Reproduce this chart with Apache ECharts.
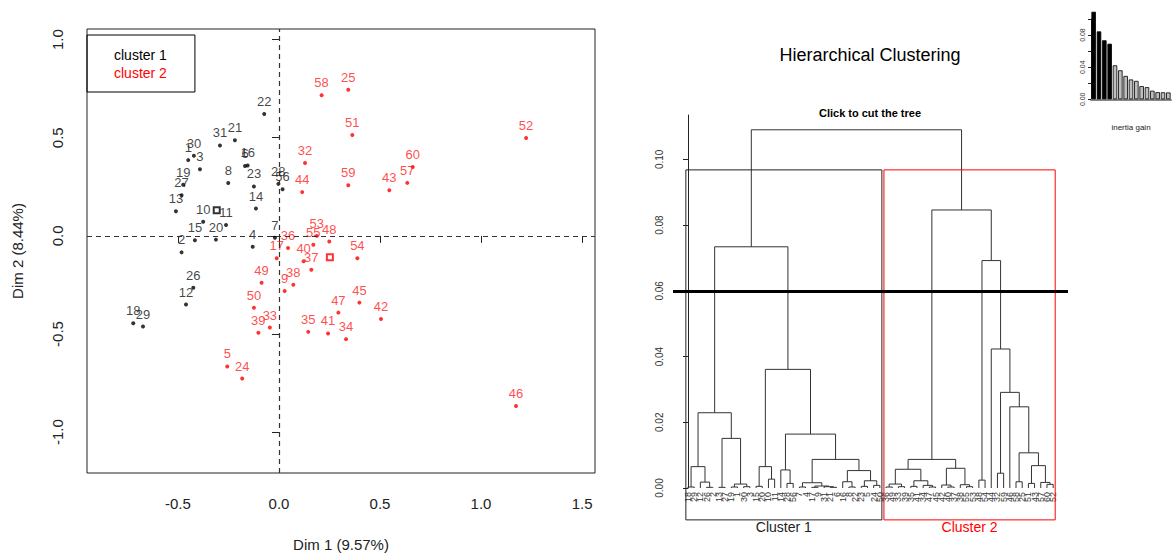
<!DOCTYPE html>
<html><head><meta charset="utf-8">
<script src="https://cdn.jsdelivr.net/npm/echarts@6/dist/echarts.min.js"></script>
<style>html,body{margin:0;padding:0;background:#fff}#c{width:1172px;height:557px}</style>
</head><body><div id="c"></div>
<script>
const FONT = '"Liberation Sans", Arial, sans-serif';

// ---------- factor map data ----------
const c1Labels = ['1','2','3','4','6','7','8','10','11','12','13','14','15','16','18','19','20','21','22','23','26','27','28','29','30','31','56'];
const c1X = [-0.449,-0.482,-0.391,-0.130,-0.168,-0.020,-0.251,-0.375,-0.262,-0.460,-0.510,-0.114,-0.416,-0.155,-0.721,-0.474,-0.312,-0.218,-0.073,-0.124,-0.424,-0.482,-0.003,-0.673,-0.421,-0.292,0.018];
const c1Y = [0.386,-0.084,0.339,-0.055,0.356,-0.009,0.269,0.072,0.055,-0.350,0.126,0.139,-0.022,0.359,-0.445,0.260,-0.019,0.487,0.621,0.252,-0.264,0.207,0.265,-0.462,0.408,0.461,0.238];

const c2Labels = ['5','9','17','24','25','32','33','34','35','36','37','38','39','40','41','42','43','44','45','46','47','48','49','50','51','52','53','54','55','57','58','59','60'];
const c2X = [-0.256,0.028,-0.011,-0.182,0.343,0.129,-0.045,0.332,0.145,0.045,0.160,0.071,-0.102,0.122,0.243,0.505,0.546,0.115,0.398,1.173,0.294,0.249,-0.086,-0.124,0.363,1.223,0.187,0.388,0.170,0.635,0.211,0.343,0.662];
const c2Y = [-0.665,-0.281,-0.114,-0.727,0.744,0.371,-0.467,-0.526,-0.489,-0.062,-0.173,-0.249,-0.494,-0.129,-0.497,-0.423,0.232,0.223,-0.340,-0.867,-0.391,-0.029,-0.239,-0.366,0.514,0.499,0.000,-0.114,-0.045,0.270,0.717,0.258,0.351];

const centerX = [-0.308, 0.252];
const centerY = [0.131, -0.109];
const clusterNames = ['cluster 1', 'cluster 2'];
const clusterColors = ['#000000', '#ff0000'];

const mapTicks = [-1.0, -0.5, 0.0, 0.5, 1.0];
const mapXTicks = [-0.5, 0.0, 0.5, 1.0, 1.5];

// ---------- dendrogram data ----------
const leafLabels = ['18','29','12','26','2','13','27','19','1','30','3','15','20','10','11','14','28','56','7','4','17','9','31','21','6','16','8','22','23','5','24','50',
  '36','49','33','39','35','41','34','47','45','42','40','37','38','55','53','48','54','44','32','59','46','58','25','51','43','57','60','52'];
// merges: [left, right, height]; integers are leaf positions
const tree1 = [
  [
    [[0,1,0.0003],[2,[3,4,0.0002],0.0018],0.0065],
    [[5,6,0.0002],[[7,8,0.0003],[9,10,0.0004],0.0012],0.0151],
    0.0229
  ],
  [
    [[11,12,0.0005],[13,14,0.0027],0.0065],
    [
      [15,[16,17,0.0014],0.0055],
      [
        [[18,19,0.0003],[[20,21,0.0002],[22,[23,24,0.0002],0.0004],0.0006],0.0016],
        [[25,[26,27,0.0003],0.0019],[[28,29,0.0005],[30,31,0.0008],0.0022],0.0053],
        0.0087
      ],
      0.0164
    ],
    0.0361
  ],
  0.0734
];
const tree2 = [
  [
    [[[32,33,0.0003],[34,35,0.0004],0.0012],[[36,37,0.0005],[38,[39,40,0.0003],0.0008],0.0022],0.0057],
    [[41,[42,43,0.0003],0.0009],[44,[45,46,0.0004],0.0010],0.0060],
    0.0087
  ],
  [
    [47,48,0.0024],
    [49,[[50,51,0.0045],[52,[[53,54,0.0019],[[55,56,0.0014],[57,[58,59,0.0011],0.0017],0.0068],0.0107],0.0247],0.0291],0.0423],
    0.0692
  ],
  0.0846
];
const rootHeight = 0.109;
const clusterSizes = [32, 28];
const boxNames = ['Cluster 1', 'Cluster 2'];
const boxColors = ['#222222', '#ff0000'];
const cutHeight = 0.0557;
const dendroTicks = [0, 0.02, 0.04, 0.06, 0.08, 0.10];

// ---------- inertia gain ----------
const gainValues = [0.109, 0.0846, 0.0735, 0.0692, 0.0423, 0.0361, 0.0291, 0.0247, 0.0229, 0.0164, 0.0151, 0.0107, 0.0089, 0.0087, 0.0085];
const gainBlack = 4;
const gainTicks = [0, 0.02, 0.04, 0.06, 0.08, 0.10];
const gainLabels = [0, 0.04, 0.08];

// ---------- build ----------
const root = [tree1, tree2, rootHeight];
const segs = [];
function lay(n) {
  if (typeof n === 'number') return {x: n, h: 0};
  const l = lay(n[0]), r = lay(n[1]);
  segs.push([l.x, l.h, r.x, r.h, n[2]]);
  return {x: (l.x + r.x) / 2, h: n[2]};
}
lay(root);
const boxTop = (tree2[2] + rootHeight) / 2;
const boxBottom = -0.0097, boxLabelY = -0.0118;
const boxes = [];
let start = 0;
clusterSizes.forEach((s, k) => {
  const left = k === 0 ? start - 0.34 : start - 1 + 0.66;
  boxes.push([left, start + s - 1 + 0.33, boxTop, boxBottom, k]);
  start += s;
});
const leafData = leafLabels.map((l, i) => [i, 0, l]);

function pts(xs, ys, ls) { return xs.map((x, i) => [x, ys[i], ls[i]]); }

const chart = echarts.init(document.getElementById('c'), null, {renderer: 'svg'});
const txt = {fontFamily: FONT};
chart.setOption({
  animation: false,
  textStyle: txt,
  title: [
    {text: 'Hierarchical Clustering', left: 870, top: 46, textAlign: 'center', padding: 0,
     textStyle: {fontFamily: FONT, fontSize: 18, fontWeight: 'normal', color: '#000'}},
    {text: 'Click to cut the tree', left: 870, top: 107, textAlign: 'center', padding: 0,
     textStyle: {fontFamily: FONT, fontSize: 11, fontWeight: 'bold', color: '#000'}}
  ],
  legend: {
    orient: 'vertical', left: 87, top: 35, padding: [13, 28, 12, 22], itemGap: 4,
    itemWidth: 0, itemHeight: 0, borderColor: '#000', borderWidth: 1, borderRadius: 0,
    selectedMode: false,
    textStyle: {fontFamily: FONT, fontSize: 14},
    data: [{name: clusterNames[0], textStyle: {color: clusterColors[0]}},
           {name: clusterNames[1], textStyle: {color: clusterColors[1]}}]
  },
  grid: [
    {left: 87, top: 29, width: 508, height: 449, show: true, borderColor: '#222', borderWidth: 1, backgroundColor: 'transparent'},
    {left: 673, top: 115, width: 395, height: 373},
    {left: 1091, top: 19, width: 80, height: 80.3}
  ],
  xAxis: [
    {gridIndex: 0, type: 'value', min: -0.950, max: 1.564,
     name: 'Dim 1 (9.57%)', nameLocation: 'middle', nameGap: 64,
     nameTextStyle: {fontFamily: FONT, fontSize: 15, color: '#222'},
     axisLine: {show: false}, splitLine: {show: false},
     axisTick: {show: true, inside: false, length: 7, customValues: mapXTicks, lineStyle: {color: '#222'}},
     axisLabel: {customValues: mapXTicks, formatter: v => v.toFixed(1), fontSize: 15, color: '#222', margin: 23, fontFamily: FONT}},
    {gridIndex: 1, type: 'value', min: -2.42, max: 61.4,
     axisLine: {show: false}, axisTick: {show: false}, splitLine: {show: false}, axisLabel: {show: false}},
    {gridIndex: 2, type: 'category', data: gainValues.map((_, i) => String(i + 1)), offset: 16,
     name: 'inertia gain', nameLocation: 'middle', nameGap: 8,
     nameTextStyle: {fontFamily: FONT, fontSize: 8, color: '#222'},
     axisLine: {show: true, lineStyle: {color: '#888', width: 2}},
     axisTick: {show: false}, axisLabel: {show: false}, splitLine: {show: false}}
  ],
  yAxis: [
    {gridIndex: 0, type: 'value', min: -1.208, max: 1.054,
     name: 'Dim 2 (8.44%)', nameLocation: 'middle', nameGap: 62, nameRotate: 90,
     nameTextStyle: {fontFamily: FONT, fontSize: 15, color: '#222'},
     axisLine: {show: false}, splitLine: {show: false},
     axisTick: {show: true, inside: false, length: 7, customValues: mapTicks, lineStyle: {color: '#222'}},
     axisLabel: {customValues: mapTicks, formatter: v => v.toFixed(1), rotate: 90, fontSize: 15, color: '#222', margin: 22, fontFamily: FONT}},
    {gridIndex: 1, type: 'value', min: 0, max: 0.1135,
     axisLine: {show: true, lineStyle: {color: '#222', width: 1}}, splitLine: {show: false},
     axisTick: {show: true, inside: false, length: 5, customValues: dendroTicks, lineStyle: {color: '#222'}},
     axisLabel: {customValues: dendroTicks, formatter: v => v.toFixed(2), rotate: 90, fontSize: 10, color: '#333', margin: 9, fontFamily: FONT}},
    {gridIndex: 2, type: 'value', min: 0, max: 0.10,
     axisLine: {show: true, lineStyle: {color: '#222', width: 1}}, splitLine: {show: false},
     axisTick: {show: true, inside: false, length: 3, customValues: gainTicks, lineStyle: {color: '#222'}},
     axisLabel: {customValues: gainLabels, formatter: v => v.toFixed(2), rotate: 90, fontSize: 7, color: '#333', margin: 5, fontFamily: FONT}}
  ],
  series: [
    {name: clusterNames[0], type: 'scatter', xAxisIndex: 0, yAxisIndex: 0,
     data: pts(c1X, c1Y, c1Labels), symbolSize: 4, itemStyle: {color: clusterColors[0]},
     label: {show: true, position: 'top', distance: 4, formatter: p => p.value[2], fontSize: 13, color: '#111', fontFamily: FONT},
     labelLayout: {hideOverlap: false},
     markLine: {silent: true, symbol: ['none', 'none'], label: {show: false},
                lineStyle: {type: [5, 4], color: '#333', width: 1.2},
                data: [{xAxis: 0}, {yAxis: 0}]}},
    {name: clusterNames[1], type: 'scatter', xAxisIndex: 0, yAxisIndex: 0,
     data: pts(c2X, c2Y, c2Labels), symbolSize: 4, itemStyle: {color: clusterColors[1]},
     label: {show: true, position: 'top', distance: 4, formatter: p => p.value[2], fontSize: 13, color: '#ff2020', fontFamily: FONT},
     labelLayout: {hideOverlap: false}},
    {name: 'centres', type: 'scatter', xAxisIndex: 0, yAxisIndex: 0, symbol: 'emptyRect', symbolSize: 6,
     data: centerX.map((x, i) => ({value: [x, centerY[i]], itemStyle: {color: clusterColors[i], borderColor: clusterColors[i], borderWidth: 1}}))},
    {name: 'tree', type: 'custom', xAxisIndex: 1, yAxisIndex: 1, clip: false, silent: true,
     data: segs, encode: {x: [0, 2], y: [1, 3, 4]},
     renderItem: (params, api) => {
       const p1 = api.coord([api.value(0), api.value(1)]);
       const p2 = api.coord([api.value(0), api.value(4)]);
       const p3 = api.coord([api.value(2), api.value(4)]);
       const p4 = api.coord([api.value(2), api.value(3)]);
       return {type: 'polyline', shape: {points: [p1, p2, p3, p4]}, style: {stroke: '#333', lineWidth: 1, fill: 'none'}};
     },
     markLine: {silent: true, symbol: ['none', 'none'], label: {show: false},
                lineStyle: {type: 'solid', color: '#000', width: 3},
                data: [{yAxis: cutHeight}]}},
    {name: 'leaves', type: 'custom', xAxisIndex: 1, yAxisIndex: 1, clip: false, silent: true,
     data: leafData, encode: {x: 0, y: 1},
     renderItem: (params, api) => {
       const p = api.coord([api.value(0), api.value(1)]);
       return {type: 'text', x: p[0], y: p[1] + 4, rotation: Math.PI / 2,
               style: {text: leafLabels[params.dataIndex], fill: '#333', font: '9px ' + FONT, align: 'right', verticalAlign: 'middle'}};
     }},
    {name: 'boxes', type: 'custom', xAxisIndex: 1, yAxisIndex: 1, clip: false, silent: true,
     data: boxes, encode: {x: [0, 1], y: [2, 3]},
     renderItem: (params, api) => {
       const x1 = api.value(0), x2 = api.value(1), t = api.value(2), b = api.value(3), k = api.value(4);
       const p1 = api.coord([x1, b]), p2 = api.coord([x1, t]), p3 = api.coord([x2, t]), p4 = api.coord([x2, b]);
       const ly = api.coord([x1, boxLabelY])[1];
       return {type: 'group', children: [
         {type: 'polygon', shape: {points: [p1, p2, p3, p4]}, style: {stroke: boxColors[k], fill: 'none', lineWidth: 1}},
         {type: 'text', x: (p1[0] + p4[0]) / 2, y: ly,
          style: {text: boxNames[k], fill: boxColors[k], font: '14px ' + FONT, align: 'center', verticalAlign: 'middle'}}
       ]};
     }},
    {name: 'inertia', type: 'bar', xAxisIndex: 2, yAxisIndex: 2, clip: false, barCategoryGap: '16%',
     data: gainValues.map((v, i) => ({value: v, itemStyle: {color: i < gainBlack ? '#000' : '#bebebe', borderColor: '#000', borderWidth: 0.8}}))}
  ]
});
</script></body></html>
